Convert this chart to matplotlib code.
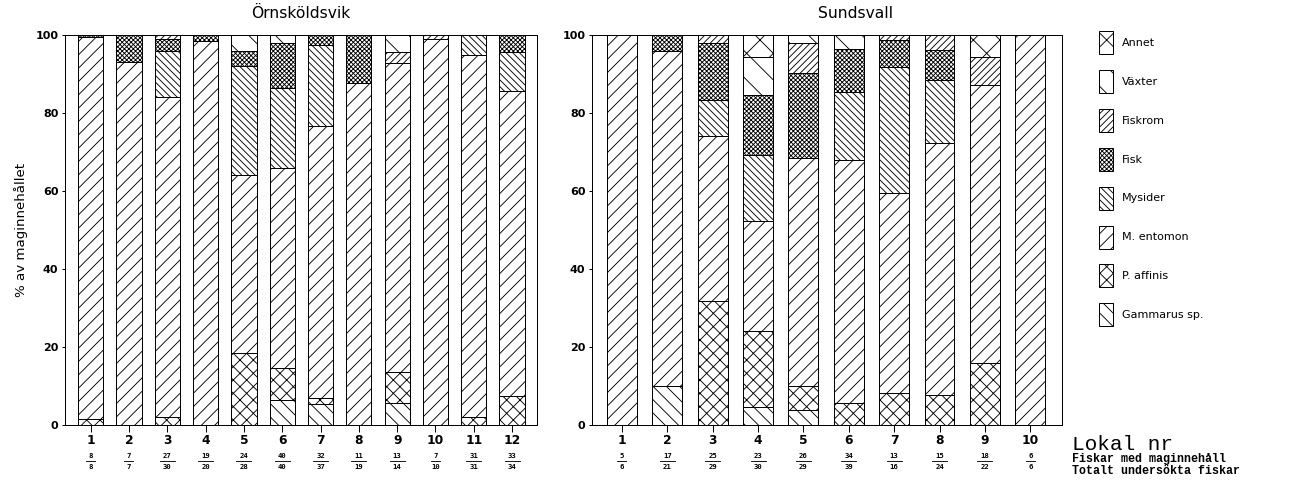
import matplotlib.pyplot as plt
import numpy as np
from matplotlib.patches import Patch

plt.rcParams['font.family'] = 'DejaVu Sans'
plt.rcParams['hatch.linewidth'] = 0.8

# födokategorier, nerifrån och upp i staplarna
kategorier = ['Gammarus sp.', 'P. affinis', 'M. entomon', 'Mysider',
              'Fisk', 'Fiskrom', 'Växter', 'Annet']
monster = ['\\\\', 'xx', '//', '\\\\\\\\', 'xxxxxx', '////', '\\', 'x']

# Örnsköldsvik, lokal 1-12 (% av maginnehållet)
orn_gammarus = [0, 0, 0, 0, 0, 6.5, 5.5, 0, 5.6, 0, 0, 0]
orn_paffinis = [1.5, 0, 2, 0, 18.5, 8, 1.5, 0, 8, 0, 2, 7.4]
orn_entomon = [98, 93, 82, 98.5, 45.5, 51.5, 69.7, 87.7, 79.2, 99, 93, 78.2]
orn_mysider = [0, 0, 12, 0, 28, 20.5, 20.8, 0, 0, 0, 5, 10]
orn_fisk = [0.5, 7, 3, 1.5, 4, 11.5, 2.5, 12.3, 0, 0, 0, 4.4]
orn_fiskrom = [0, 0, 1, 0, 0, 0, 0, 0, 2.8, 1, 0, 0]
orn_vaxter = [0, 0, 0, 0, 4, 2, 0, 0, 4.4, 0, 0, 0]
orn_annet = [0, 0, 0, 0, 0, 0, 0, 0, 0, 0, 0, 0]
orn_med = [8, 7, 27, 19, 24, 40, 32, 11, 13, 7, 31, 33]
orn_tot = [8, 7, 30, 20, 28, 40, 37, 19, 14, 10, 31, 34]

# Sundsvall, lokal 1-10
s_gammarus = [0, 10, 0, 4.7, 3.8, 0, 0, 0, 0, 0]
s_paffinis = [0, 0, 31.9, 19.5, 6.3, 5.6, 8.2, 7.7, 15.8, 0]
s_entomon = [100, 85.8, 42.2, 28.2, 58.4, 62.3, 51.4, 64.5, 71.4, 100]
s_mysider = [0, 0, 9.2, 16.8, 0, 17.6, 32.3, 16.3, 0, 0]
s_fisk = [0, 4.2, 14.6, 15.4, 21.7, 10.8, 6.8, 7.7, 0, 0]
s_fiskrom = [0, 0, 2.1, 0, 7.7, 0, 1.3, 3.8, 7.1, 0]
s_vaxter = [0, 0, 0, 9.7, 2.1, 3.7, 0, 0, 0, 0]
s_annet = [0, 0, 0, 5.7, 0, 0, 0, 0, 5.7, 0]
s_med = [5, 17, 25, 23, 26, 34, 13, 15, 18, 6]
s_tot = [6, 21, 29, 30, 29, 39, 16, 24, 22, 6]

W, H, DPI = 1300, 483, 80
fig = plt.figure(figsize=(W / DPI, H / DPI), dpi=DPI)
ax1 = fig.add_axes([65 / W, 58 / H, 472 / W, 390 / H])
ax2 = fig.add_axes([592 / W, 58 / H, 470 / W, 390 / H])


def rita(ax, serier, med, tot, xlim):
    x = np.arange(1, len(serier[0]) + 1)
    botten = np.zeros(len(x))
    for vals, h in zip(serier, monster):
        ax.bar(x, vals, 0.66, bottom=botten, color='white', edgecolor='black',
               hatch=h, linewidth=0.9)
        botten += np.array(vals)
    ax.set_xlim(*xlim)
    ax.set_ylim(0, 100)
    ax.set_yticks([0, 20, 40, 60, 80, 100])
    ax.set_xticks(x)
    ax.set_xticklabels([str(i) for i in x], fontsize=11, fontweight='bold')
    ax.tick_params(axis='x', direction='out', length=6, width=0.9, pad=2)
    ax.tick_params(axis='y', direction='out', length=3, width=0.9, pad=3)
    for lab in ax.get_yticklabels():
        lab.set_fontweight('bold')
        lab.set_fontsize(10)
    for s in ax.spines.values():
        s.set_linewidth(0.9)

    # bråk under varje lokalnummer: fiskar med maginnehåll / totalt
    tr = ax.get_xaxis_transform()
    px_per_unit = ax.get_position().width * W / (xlim[1] - xlim[0])
    for xi, m, t in zip(x, med, tot):
        ax.text(xi, -31 / 390, str(m), transform=tr, ha='center', va='center',
                family='DejaVu Sans Mono', fontweight='bold', fontsize=6.5)
        ax.text(xi, -42 / 390, str(t), transform=tr, ha='center', va='center',
                family='DejaVu Sans Mono', fontweight='bold', fontsize=6.5)
        half = (3.0 * len(str(m)) + 1.5) / px_per_unit
        ax.plot([xi - half, xi + half], [-36 / 390, -36 / 390], color='black',
                lw=0.8, transform=tr, clip_on=False)


rita(ax1, [orn_gammarus, orn_paffinis, orn_entomon, orn_mysider, orn_fisk,
           orn_fiskrom, orn_vaxter, orn_annet], orn_med, orn_tot, (0.33, 12.65))
rita(ax2, [s_gammarus, s_paffinis, s_entomon, s_mysider, s_fisk,
           s_fiskrom, s_vaxter, s_annet], s_med, s_tot, (0.34, 10.7))

ax1.text(0.5, 1.056, 'Örnsköldsvik', transform=ax1.transAxes, ha='center',
         va='center', fontsize=14)
ax2.text(0.56, 1.056, 'Sundsvall', transform=ax2.transAxes, ha='center',
         va='center', fontsize=14)
ax1.set_ylabel('% av maginnehållet', fontsize=12, labelpad=7)

# teckenförklaring, översta kategorin först
handles = [Patch(facecolor='white', edgecolor='black', hatch=h, linewidth=0.9)
           for h in monster[::-1]]
fig.legend(handles, kategorier[::-1], loc='upper left',
           bbox_to_anchor=(1099 / W, 1 - 31 / H), frameon=False, fontsize=10,
           handlelength=1.26, handleheight=2.81, handletextpad=0.81,
           labelspacing=1.43, borderpad=0, borderaxespad=0)

fig.text(1072 / W, 1 - 444 / H, 'Lokal nr', family='Liberation Mono',
         fontsize=19, va='center')
fig.text(1072 / W, 1 - 459 / H, 'Fiskar med maginnehåll',
         family='Liberation Mono', fontweight='bold', fontsize=10.5, va='center')
fig.text(1072 / W, 1 - 471 / H, 'Totalt undersökta fiskar',
         family='Liberation Mono', fontweight='bold', fontsize=10.5, va='center')

fig.savefig('out.png', dpi=DPI)
